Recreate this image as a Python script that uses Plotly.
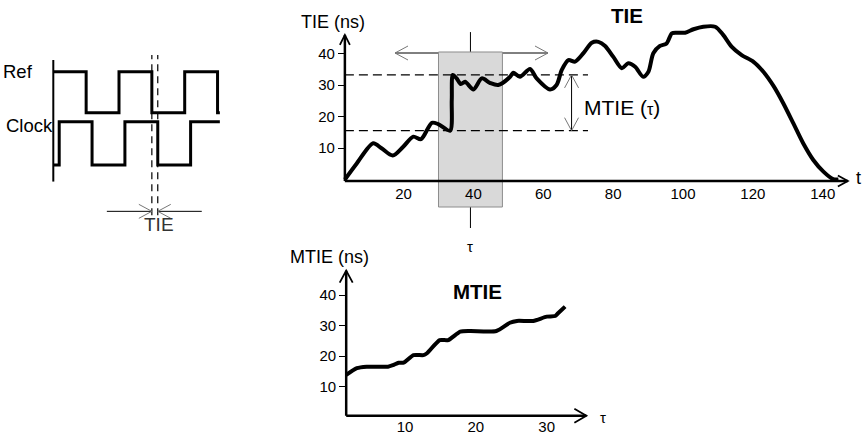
import plotly.graph_objects as go

W, H = 862, 435

# ---------------- data ----------------
# Left schematic: logic levels of reference and clock (time in half-periods)
ref_edges = [0.0, 1.0, 2.0, 3.0, 4.0, 5.0, 5.07]
ref_levels = [1, 0, 1, 0, 1, 0, 0]
clock_edges = [0.0, 0.18, 1.18, 2.18, 3.18, 4.18, 5.07]
clock_levels = [0, 1, 0, 1, 0, 1, 1]

# TIE curve: t vs TIE (ns)
tie_t = [3.2, 6.6, 11.3, 13.7, 16.9, 19.9, 22.8, 25.0, 28.1, 29.9, 33.3, 33.8, 34.1,
         35.2, 36.4, 37.6, 40.0, 42.4, 44.7, 47.1, 50.5, 51.4, 53.3, 56.2, 58.1, 61.9,
         63.8, 65.3, 67.2, 69.1, 71.5, 73.9, 75.8, 77.7, 80.0, 82.5, 84.3, 86.3, 88.6,
         90.1, 91.5, 93.4, 95.3, 96.8, 98.2, 100.6, 103.0, 105.8, 109.2, 111.5, 113.9,
         116.8, 120.1, 123.0, 125.9, 128.7, 131.6, 134.4, 137.3, 140.2, 143.0, 144.5]
tie_ns = [0.0, 5.1, 11.5, 9.9, 7.6, 10.4, 13.6, 12.8, 18.0, 17.6, 15.5, 25.2, 33.2,
          32.1, 30.3, 31.0, 28.6, 32.1, 30.7, 30.0, 32.6, 33.9, 32.6, 35.1, 32.1, 28.6,
          30.0, 34.8, 37.9, 37.4, 40.1, 43.4, 43.7, 42.4, 39.0, 35.3, 36.9, 35.8, 32.6,
          34.2, 40.1, 42.4, 43.2, 46.4, 46.6, 46.6, 47.7, 48.5, 48.5, 45.9, 42.2,
          39.5, 37.4, 34.2, 29.7, 24.2, 17.8, 11.5, 6.2, 2.5, 0.1, 0.0]
tie_xticks = [20, 40, 60, 80, 100, 120, 140]
tie_yticks = [10, 20, 30, 40]
tau_window = [30.0, 48.3]

# MTIE curve: tau vs MTIE (ns)
mtie_tau = [1.7, 3.2, 4.6, 7.6, 8.3, 9.1, 9.8, 11.2, 12.6, 13.1, 14.9, 16.1, 17.8,
            19.2, 22.9, 24.8, 25.8, 28.1, 30.0, 31.2, 31.6, 32.6]
mtie_ns = [13.8, 16.0, 16.5, 16.5, 17.0, 17.8, 17.8, 20.3, 20.3, 20.9, 25.2, 25.2, 28.0,
           28.2, 28.2, 30.9, 31.5, 31.5, 32.9, 33.1, 34.0, 36.2]
mtie_xticks = [10, 20, 30]
mtie_yticks = [10, 20, 30, 40]

# ---------------- layout helpers (pixel scales) ----------------
TIE_M = dict(x0=333.7, sx=3.493, y0=179.5, sy=3.15)
MTIE_M = dict(x0=334.15, sx=7.085, y0=417.0, sy=3.05)
CLK_M = dict(x0=53.3, sx=32.85, y0=165.0, sy=42.5)


def setup(m, box):
    l, t, r, b = box
    xr = [(l - m['x0']) / m['sx'], (r - m['x0']) / m['sx']]
    yr = [(m['y0'] - b) / m['sy'], (m['y0'] - t) / m['sy']]
    return xr, yr, [l / W, r / W], [1 - b / H, 1 - t / H]


def paper_x(m, v):
    return (m['x0'] + m['sx'] * v) / W


def paper_y(m, v):
    return 1 - (m['y0'] - m['sy'] * v) / H


tie_xr, tie_yr, tie_xd, tie_yd = setup(TIE_M, (300, 0, 862, 255))
mt_xr, mt_yr, mt_xd, mt_yd = setup(MTIE_M, (270, 255, 620, 435))
ck_xr, ck_yr, ck_xd, ck_yd = setup(CLK_M, (0, 30, 250, 250))

TIE_X0, TIE_Y0 = 3.2, -0.5
MT_X0, MT_Y0 = 1.7, 0.4

FONT = "Liberation Sans, Arial, sans-serif"


def seg(xr, yr, x0, y0, x1, y1, width=1.0, color="black", dash="solid", layer="above"):
    return dict(type="line", xref=xr, yref=yr, x0=x0, y0=y0, x1=x1, y1=y1,
                line=dict(width=width, color=color, dash=dash), layer=layer)


def head(xr, yr, x, y, direction, length, half, width=1.0, color="#777777"):
    L, h = length, half
    paths = {
        "right": f"M {-L},{h} L 0,0 L {-L},{-h}",
        "left": f"M {L},{h} L 0,0 L {L},{-h}",
        "up": f"M {-h},{-L} L 0,0 L {h},{-L}",
        "down": f"M {-h},{L} L 0,0 L {h},{L}",
    }
    return dict(type="path", xref=xr, yref=yr, xsizemode="pixel", ysizemode="pixel",
                xanchor=x, yanchor=y, path=paths[direction],
                line=dict(width=width, color=color), layer="above")


def label(xr, yr, x, y, text, size, xanchor="center", color="black"):
    return dict(xref=xr, yref=yr, x=x, y=y, text=text, showarrow=False,
                xanchor=xanchor, yanchor="middle",
                font=dict(family=FONT, size=size, color=color))


# ---------------- figure ----------------
fig = go.Figure()

REF_LOW, REF_AMP = 1.231, 0.964
CLK_LOW, CLK_AMP = 0.0, 1.019

fig.add_trace(go.Scatter(x=ref_edges, y=[REF_LOW + REF_AMP * v for v in ref_levels],
                         mode="lines", line=dict(shape="hv", width=3, color="black"),
                         xaxis="x3", yaxis="y3", hoverinfo="skip"))
fig.add_trace(go.Scatter(x=clock_edges, y=[CLK_LOW + CLK_AMP * v for v in clock_levels],
                         mode="lines", line=dict(shape="hv", width=3, color="black"),
                         xaxis="x3", yaxis="y3", hoverinfo="skip"))
fig.add_trace(go.Scatter(x=tie_t, y=tie_ns, mode="lines",
                         line=dict(shape="spline", smoothing=0.8, width=4, color="black"),
                         xaxis="x", yaxis="y", hoverinfo="skip"))
fig.add_trace(go.Scatter(x=mtie_tau, y=mtie_ns, mode="lines",
                         line=dict(shape="spline", smoothing=0.6, width=4, color="black"),
                         xaxis="x2", yaxis="y2", hoverinfo="skip"))

# window statistics
inside = [v for t, v in zip(tie_t, tie_ns) if tau_window[0] <= t <= tau_window[1]]
tmin, tmax = min(inside), max(inside)
tcen = 0.5 * (tau_window[0] + tau_window[1])

shapes = []
# --- TIE panel
shapes.append(seg("x", "y", 17.55, 40.16, 61.35, 40.16, width=1, layer="below"))
shapes.append(seg("x", "y", tcen, 46.8, tcen, -15.4, width=1, layer="below"))
shapes.append(dict(type="rect", xref="x", yref="y", x0=tau_window[0], x1=tau_window[1],
                   y0=-8.73, y1=40.48, fillcolor="#d9d9d9",
                   line=dict(color="#8c8c8c", width=1), layer="below"))
for lvl in (tmax, tmin):
    shapes.append(seg("x", "y", TIE_X0, lvl, 72.8, lvl, width=1.2, dash="9px,5px", layer="below"))
shapes.append(head("x", "y", 17.55, 40.16, "left", 13, 7))
shapes.append(head("x", "y", 61.35, 40.16, "right", 13, 7))
shapes.append(seg("x", "y", 68.1, tmax, 68.1, tmin, width=1))
shapes.append(head("x", "y", 68.1, tmax, "up", 13, 7))
shapes.append(head("x", "y", 68.1, tmin, "down", 13, 7))
# axes
shapes.append(seg("x", "y", TIE_X0, TIE_Y0, 147.2, TIE_Y0, width=2.5))
shapes.append(seg("x", "y", TIE_X0, TIE_Y0, TIE_X0, 45.9, width=2.5))
shapes.append(head("x", "y", 147.2, TIE_Y0, "right", 10, 5.5, width=1.8, color="black"))
shapes.append(head("x", "y", TIE_X0, 45.9, "up", 10, 5, width=1.8, color="black"))

# --- MTIE panel
shapes.append(seg("x2", "y2", MT_X0, MT_Y0, 35.6, MT_Y0, width=2.5))
shapes.append(seg("x2", "y2", MT_X0, MT_Y0, MT_X0, 48.0, width=2.5))
shapes.append(head("x2", "y2", 35.6, MT_Y0, "right", 12, 7, width=1.8, color="black"))
shapes.append(head("x2", "y2", MT_X0, 48.0, "up", 12, 6.5, width=1.8, color="black"))

# --- clock schematic
shapes.append(seg("x3", "y3", 0.0, -0.39, 0.0, 2.47, width=2))
for e in (ref_edges[3], clock_edges[4]):
    shapes.append(seg("x3", "y3", e, -1.18, e, 2.59, width=1.2, dash="7px,5px"))
shapes.append(seg("x3", "y3", 1.63, -1.09, ref_edges[3], -1.09, width=1))
shapes.append(seg("x3", "y3", 4.52, -1.09, clock_edges[4], -1.09, width=1))
shapes.append(head("x3", "y3", ref_edges[3], -1.09, "right", 13, 7))
shapes.append(head("x3", "y3", clock_edges[4], -1.09, "left", 13, 7))

annotations = [
    label("x", "y", -0.2, 50.0, "TIE (ns)", 18),
    label("x", "y", 84.0, 52.2, "<b>TIE</b>", 20.5),
    label("x", "y", 71.1, 22.7, "MTIE (<span style='font-size:16px'>τ</span>)", 21, xanchor="left"),
    label("x", "y", 150.1, 0.5, "t", 18),
    label("x", "y", 39.0, -21.4, "τ", 15),
    label("x2", "y2", -0.59, 52.6, "MTIE (ns)", 18),
    label("x2", "y2", 20.3, 41.1, "<b>MTIE</b>", 20.5),
    label("x2", "y2", 37.9, 0.0, "τ", 15),
    label("x3", "y3", (35 - CLK_M['x0']) / CLK_M['sx'], 2.195, "Ref", 18.5, xanchor="right"),
    label("x3", "y3", (54.5 - CLK_M['x0']) / CLK_M['sx'], 0.94, "Clock", 18.5, xanchor="right"),
    label("x3", "y3", 3.22, -1.41, "TIE", 19, color="#333333"),
]

common = dict(showline=False, zeroline=False, showgrid=False, fixedrange=True,
              tickfont=dict(family=FONT, size=15, color="black"))

fig.update_layout(
    width=W, height=H, margin=dict(l=0, r=0, t=0, b=0),
    paper_bgcolor="white", plot_bgcolor="rgba(0,0,0,0)",
    showlegend=False, template="none",
    font=dict(family=FONT, color="black"),
    shapes=shapes, annotations=annotations,
    xaxis=dict(domain=tie_xd, range=tie_xr, anchor="free", position=paper_y(TIE_M, TIE_Y0),
               tickmode="array", tickvals=tie_xticks, ticks="", ticklabelstandoff=2,
               automargin=False, **common),
    yaxis=dict(domain=tie_yd, range=tie_yr, anchor="free", position=paper_x(TIE_M, TIE_X0),
               tickmode="array", tickvals=tie_yticks, ticks="outside", ticklen=7,
               tickwidth=1.3, tickcolor="black", automargin=False, **common),
    xaxis2=dict(domain=mt_xd, range=mt_xr, anchor="free", position=paper_y(MTIE_M, MT_Y0),
                tickmode="array", tickvals=mtie_xticks, ticks="", automargin=False, **common),
    yaxis2=dict(domain=mt_yd, range=mt_yr, anchor="free", position=paper_x(MTIE_M, MT_X0),
                tickmode="array", tickvals=mtie_yticks, ticks="outside", ticklen=7,
                tickwidth=1.3, tickcolor="black", automargin=False, **common),
    xaxis3=dict(domain=ck_xd, range=ck_xr, visible=False, fixedrange=True),
    yaxis3=dict(domain=ck_yd, range=ck_yr, visible=False, fixedrange=True),
)

fig.write_html("out.html", config=dict(displayModeBar=False),
               post_script="document.body.style.margin='0';document.body.style.overflow='hidden';")
